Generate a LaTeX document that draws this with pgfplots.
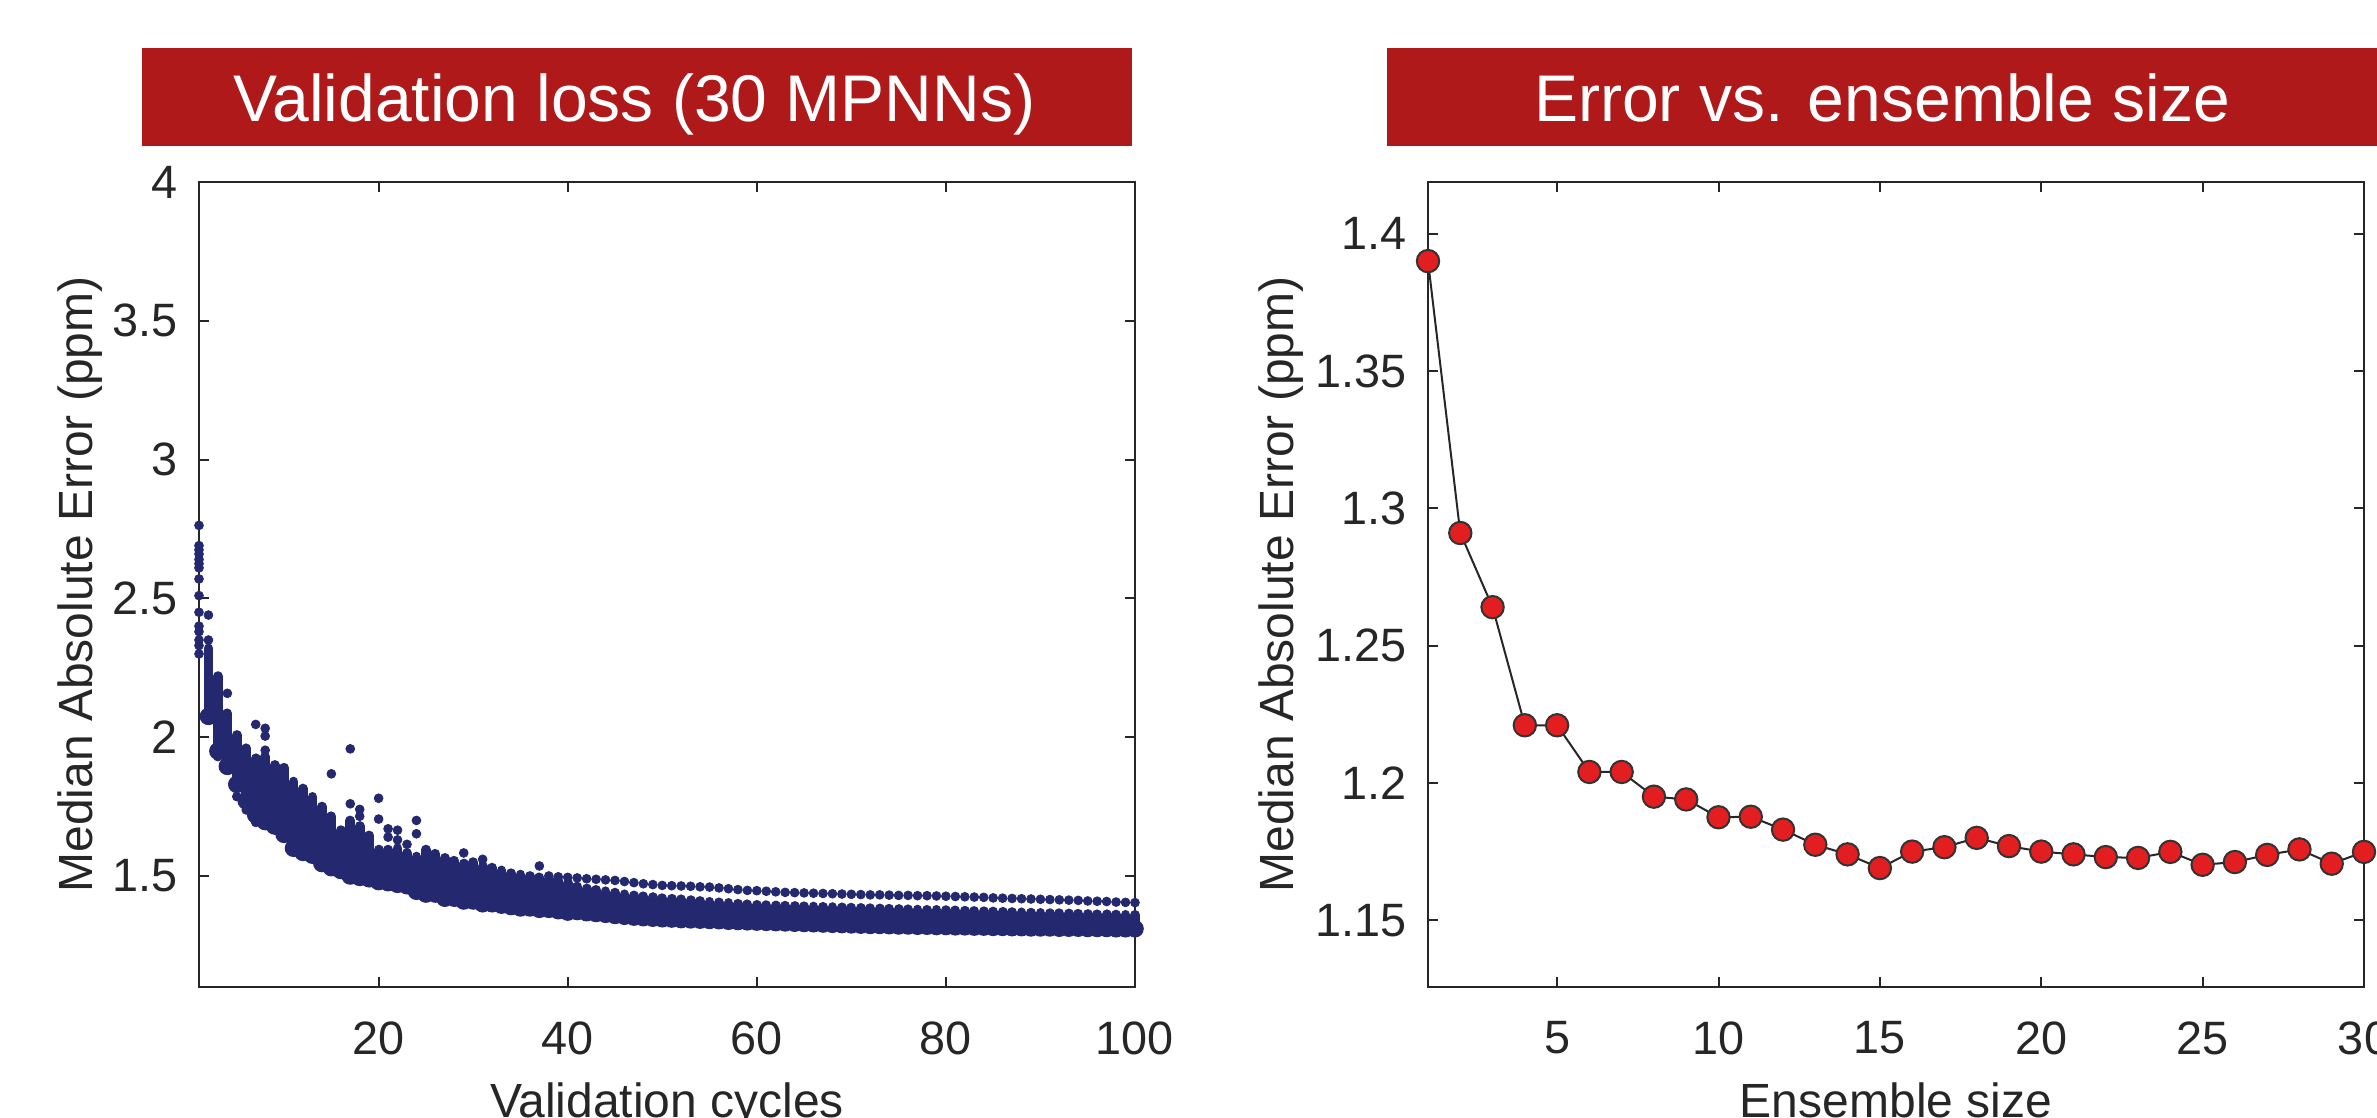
\documentclass[border=0pt]{standalone}
\usepackage{fontspec}
\setmainfont{Liberation Sans}
\usepackage{pgfplots}
\usepackage{pgfplotstable}
\pgfplotsset{compat=1.18}
\definecolor{TitleRed}{RGB}{176,25,25}
\definecolor{DotNavy}{RGB}{36,40,110}
\definecolor{MarkRed}{RGB}{226,30,32}
\definecolor{AxGray}{RGB}{38,38,38}

\pgfplotsset{
  matlabbox/.style={
    scale only axis, width=234pt, height=201.25pt, anchor=south west,
    clip=false,
    tick align=inside, xtick pos=both, ytick pos=both,
    xticklabel pos=lower, yticklabel pos=left,
    major tick length=2.4pt, minor tick num=0,
    axis line style={AxGray, line width=0.5pt},
    major tick style={AxGray, line width=0.5pt},
    tick label style={font=\fontsize{11.7}{14}\selectfont, text=AxGray, inner sep=0pt},
    /pgf/number format/assume math mode=true,
    xticklabel style={anchor=north, yshift=-8.4pt},
    yticklabel style={anchor=east, xshift=-5.2pt},
    label style={font=\fontsize{12}{14}\selectfont, text=AxGray, inner sep=0pt},
    xlabel style={at={(axis description cs:0.5,-0.118)}, anchor=north},
  },
}

% per validation cycle: lowest and highest of the dense column of 30 models
\pgfplotstableread{
x lo hi
2 2.075 2.32
3 1.95 2.22
4 1.895 2.086
5 1.83 2.008
6 1.77 1.96
7 1.72 1.924
8 1.696 1.93
9 1.68 1.90
10 1.65 1.89
11 1.60 1.84
12 1.585 1.815
13 1.575 1.785
14 1.545 1.75
15 1.53 1.715
16 1.52 1.665
17 1.50 1.70
18 1.495 1.68
19 1.49 1.646
20 1.48 1.595
21 1.476 1.595
22 1.47 1.60
23 1.465 1.583
24 1.445 1.57
25 1.435 1.595
26 1.435 1.58
27 1.42 1.565
28 1.42 1.555
29 1.41 1.545
30 1.41 1.55
31 1.40 1.535
32 1.40 1.53
33 1.395 1.52
34 1.39 1.51
35 1.385 1.505
36 1.385 1.50
37 1.38 1.495
38 1.38 1.49
39 1.375 1.485
40 1.37 1.475
41 1.372 1.462
42 1.368 1.455
43 1.365 1.45
44 1.362 1.445
45 1.358 1.44
46 1.355 1.434
47 1.352 1.43
48 1.35 1.427
49 1.348 1.424
50 1.346 1.42
51 1.345 1.418
52 1.343 1.416
53 1.342 1.413
54 1.341 1.41
55 1.34 1.407
56 1.339 1.405
57 1.337 1.403
58 1.336 1.40
59 1.335 1.398
60 1.334 1.396
61 1.333 1.395
62 1.332 1.394
63 1.331 1.393
64 1.33 1.392
65 1.329 1.391
66 1.328 1.39
67 1.327 1.389
68 1.326 1.388
69 1.325 1.387
70 1.324 1.386
71 1.323 1.385
72 1.322 1.384
73 1.322 1.383
74 1.321 1.382
75 1.32 1.381
76 1.32 1.38
77 1.319 1.379
78 1.319 1.378
79 1.318 1.378
80 1.318 1.377
81 1.317 1.376
82 1.317 1.375
83 1.316 1.374
84 1.316 1.373
85 1.315 1.372
86 1.315 1.371
87 1.314 1.37
88 1.314 1.369
89 1.313 1.368
90 1.313 1.367
91 1.313 1.366
92 1.312 1.366
93 1.312 1.365
94 1.312 1.364
95 1.311 1.363
96 1.311 1.362
97 1.311 1.362
98 1.31 1.361
99 1.31 1.36
100 1.31 1.36
}\bandtable

% the one model that stays above the rest
\pgfplotstableread{
x y
38 1.50
39 1.497
40 1.495
41 1.493
42 1.49
43 1.488
44 1.486
45 1.484
46 1.48
47 1.476
48 1.472
49 1.469
50 1.466
51 1.465
52 1.464
53 1.463
54 1.461
55 1.46
56 1.457
57 1.454
58 1.451
59 1.448
60 1.447
61 1.445
62 1.443
63 1.441
64 1.44
65 1.439
66 1.438
67 1.437
68 1.436
69 1.435
70 1.434
71 1.433
72 1.432
73 1.432
74 1.431
75 1.43
76 1.43
77 1.429
78 1.429
79 1.428
80 1.427
81 1.426
82 1.425
83 1.424
84 1.423
85 1.421
86 1.42
87 1.419
88 1.418
89 1.417
90 1.416
91 1.415
92 1.414
93 1.413
94 1.412
95 1.41
96 1.409
97 1.408
98 1.406
99 1.405
100 1.404
}\toprow

\begin{document}
\begin{tikzpicture}

\begin{axis}[matlabbox, at={(49.75pt,32.5pt)},
  xmin=1, xmax=100, ymin=1.1, ymax=4,
  xtick={20,40,60,80,100}, ytick={1.5,2,2.5,3,3.5,4},
  xlabel={Validation cycles},
  ylabel={Median Absolute Error (ppm)},
  ylabel style={at={(axis description cs:-0.1517,0.5)}, anchor=north},
]
\addplot[only marks, mark=none, DotNavy,
  error bars/.cd, y dir=plus, y explicit, error mark=none,
  error bar style={line width=2.45pt, line cap=round, DotNavy}]
  table[x=x, y=lo, y error expr=\thisrow{hi}-\thisrow{lo}] {\bandtable};
\addplot[only marks, mark=*, mark size=1.1pt, DotNavy,
  mark options={fill=DotNavy, line width=0.2pt}] table[x=x, y=y] {\toprow};
\addplot[only marks, mark=*, mark size=1.1pt, DotNavy,
  mark options={fill=DotNavy, line width=0.2pt}] coordinates {
  (1,2.763)(1,2.69)(1,2.675)(1,2.66)(1,2.64)(1,2.625)(1,2.61)(1,2.57)
  (1,2.51)(1,2.45)(1,2.40)(1,2.38)(1,2.35)(1,2.33)(1,2.30)
  (2,2.44)(2,2.35)(3,1.93)(4,2.158)(5,1.786)(6,1.738)
  (7,2.046)(7,1.693)(8,2.032)(8,2.004)(8,1.953)
  (15,1.868)(17,1.958)(17,1.76)(18,1.74)(18,1.715)
  (20,1.78)(20,1.705)(21,1.67)(21,1.64)(22,1.665)(22,1.63)
  (23,1.614)(24,1.70)(24,1.652)(29,1.583)(31,1.56)(37,1.536)
};
\end{axis}

\begin{axis}[matlabbox, at={(357pt,32.5pt)},
  xmin=1, xmax=30, ymin=1.1257, ymax=1.4188,
  xtick={5,10,15,20,25,30}, ytick={1.15,1.2,1.25,1.3,1.35,1.4},
  xlabel={Ensemble size},
  ylabel={Median Absolute Error (ppm)},
  ylabel style={at={(axis description cs:-0.1816,0.5)}, anchor=north},
]
\addplot[black!85, line width=0.5pt, mark=*, mark size=2.8pt,
  mark options={fill=MarkRed, draw=black!80, line width=0.5pt}] coordinates {
  (1,1.390)(2,1.291)(3,1.264)(4,1.221)(5,1.221)(6,1.204)(7,1.204)
  (8,1.195)(9,1.194)(10,1.1875)(11,1.1877)(12,1.183)(13,1.1775)
  (14,1.174)(15,1.169)(16,1.175)(17,1.1766)(18,1.180)(19,1.177)
  (20,1.175)(21,1.174)(22,1.173)(23,1.1727)(24,1.1749)(25,1.1702)
  (26,1.1712)(27,1.1738)(28,1.1758)(29,1.1706)(30,1.1749)
};
\end{axis}

\fill[TitleRed] (35.4pt,242.8pt) rectangle (283pt,267.2pt);
\node[text=white, anchor=base, inner sep=0pt, font=\fontsize{16.5}{18}\selectfont]
  at (158.6pt,249pt) {Validation loss (30 MPNNs)};
\fill[TitleRed] (346.75pt,242.8pt) rectangle (600pt,267.2pt);
\node[text=white, anchor=base, inner sep=0pt, font=\fontsize{16.5}{18}\selectfont]
  at (470.5pt,249pt) {Error vs. ensemble size};

\pgfresetboundingbox
\useasboundingbox (0,0) rectangle (594.25pt,279.25pt);
\end{tikzpicture}
\end{document}
